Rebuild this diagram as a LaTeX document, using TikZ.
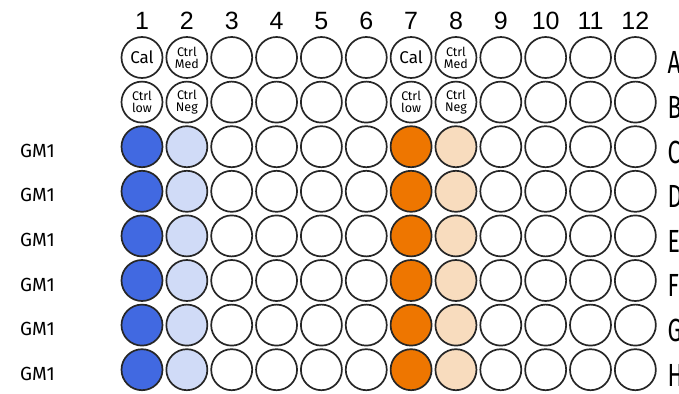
\documentclass[tikz,border=0pt]{standalone}
\usepackage{fontspec}
\setmainfont{Fira Sans}
\newfontfamily\numfont{Liberation Sans}
\usetikzlibrary{positioning}

\definecolor{calblue}{HTML}{4169E1}
\definecolor{negblue}{HTML}{D0DBF7}
\definecolor{calorange}{HTML}{EE7600}
\definecolor{negorange}{HTML}{F8DCBE}

\tikzset{
  well/.style={circle, draw=black!85, line width=1.7pt, minimum size=41pt, inner sep=0pt, fill=white},
  caltext/.style={font=\fontsize{17}{17}\selectfont},
  ctrltext/.style={font=\fontsize{12.5}{12}\selectfont, align=center},
  colnum/.style={font=\numfont\fontsize{25}{25}\selectfont},
  rowlet/.style={font=\fontsize{32}{32}\selectfont, xscale=0.72, anchor=west},
  sample/.style={font=\fontsize{19}{19}\selectfont},
}

\begin{document}
\begin{tikzpicture}[x=44.85pt, y=-44.6pt]
\useasboundingbox (-97.15pt,12.9pt) rectangle (581.85pt,-380.1pt);

% column numbers and row letters
\foreach \c in {1,...,12}
    \node[colnum] (n\c) at (\c,0.18) {\c};
\foreach \r/\rl in {1/A,2/B,3/C,4/D,5/E,6/F,7/G,8/H}
    \node[rowlet] (l\rl) at (12.66,\r+0.12) {\rl};

% rows A and B: calibrator and controls
\node[well, caltext] (A1) at (1,1) {Cal};
\node[well, ctrltext] (A2) at (2,1) {Ctrl\\Med};
\node[well, caltext] (A7) at (7,1) {Cal};
\node[well, ctrltext] (A8) at (8,1) {Ctrl\\Med};
\node[well, ctrltext] (B1) at (1,2) {Ctrl\\low};
\node[well, ctrltext] (B2) at (2,2) {Ctrl\\Neg};
\node[well, ctrltext] (B7) at (7,2) {Ctrl\\low};
\node[well, ctrltext] (B8) at (8,2) {Ctrl\\Neg};
\foreach \r/\rl in {1/A,2/B}
    \foreach \c in {3,4,5,6,9,10,11,12}
        \node[well] (\rl\c) at (\c,\r) {};

% rows C to H: samples
\foreach \r/\rl in {3/C,4/D,5/E,6/F,7/G,8/H} {
    \node[sample] (g\rl) at (-1.33,\r+0.09) {GM1};
    \foreach \c/\f in {1/calblue,2/negblue,3/white,4/white,5/white,6/white,
                       7/calorange,8/negorange,9/white,10/white,11/white,12/white}
        \node[well, fill=\f] (\rl\c) at (\c,\r) {};
}
\end{tikzpicture}
\end{document}
